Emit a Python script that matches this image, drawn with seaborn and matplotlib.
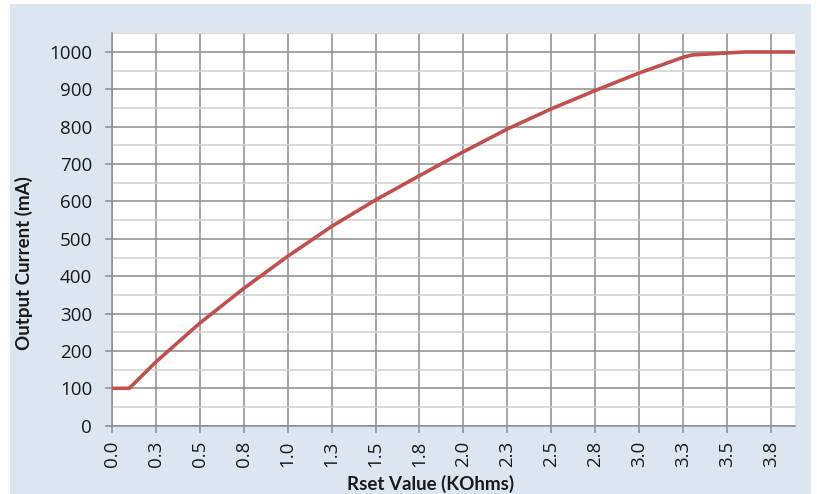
import matplotlib
matplotlib.use("Agg")
import pandas as pd
import matplotlib.pyplot as plt
import seaborn as sns
from matplotlib.patches import Rectangle
from matplotlib.ticker import FixedLocator, MultipleLocator

# values
rset = [0.0, 0.1, 0.25, 0.5, 0.75, 1.0, 1.25, 1.5, 1.75, 2.0, 2.25, 2.5,
        2.75, 3.0, 3.25, 3.3, 3.6, 3.9]
current = [100, 100, 170, 274, 367, 453, 533, 604, 669, 733, 794, 848,
           897, 944, 986, 992, 1000, 1000]

xtick_pos = [0.0, 0.25, 0.5, 0.75, 1.0, 1.25, 1.5, 1.75, 2.0, 2.25, 2.5,
             2.75, 3.0, 3.25, 3.5, 3.75]
xtick_labels = ['0.0', '0.3', '0.5', '0.8', '1.0', '1.3', '1.5', '1.8',
                '2.0', '2.3', '2.5', '2.8', '3.0', '3.3', '3.5', '3.8']
ytick_pos = [0, 100, 200, 300, 400, 500, 600, 700, 800, 900, 1000]

sns.set_theme(style="white")
plt.rcParams['font.family'] = ['Open Sans', 'DejaVu Sans']

fig = plt.figure(figsize=(8.17, 4.94), dpi=100)
# light blue chart area, drawn behind the axes
fig.patches.append(Rectangle((10 / 817, 0), 801 / 817, 490 / 494,
                             transform=fig.transFigure, facecolor='#dce6f1',
                             edgecolor='none', zorder=-10))
ax = fig.add_axes([0.1367, 0.1383, 0.8364, 0.7943])
ax.set_zorder(1)
ax.set_facecolor('white')

df = pd.DataFrame({'Rset': rset, 'Current': current})
sns.lineplot(data=df, x='Rset', y='Current', ax=ax, color='#C0504D',
             linewidth=2.6, zorder=3)

ax.set_xlim(0, 3.885)
ax.set_ylim(0, 1050)
ax.xaxis.set_major_locator(FixedLocator(xtick_pos))
ax.set_xticklabels(xtick_labels, rotation=90)
ax.yaxis.set_major_locator(FixedLocator(ytick_pos))
ax.yaxis.set_minor_locator(MultipleLocator(50))

ax.set_axisbelow(True)
ax.grid(which='major', axis='both', color='#8c8c8c', linewidth=1.1)
ax.grid(which='minor', axis='y', color='#cfcfcf', linewidth=1.1)

for side in ['top', 'right']:
    ax.spines[side].set_visible(False)
for side in ['left', 'bottom']:
    ax.spines[side].set_color('#8c8c8c')
    ax.spines[side].set_linewidth(1.1)

ax.tick_params(which='major', length=5, width=1.1, color='#8c8c8c',
               labelsize=13.5, labelcolor='#1a1a1a', bottom=True, left=True)
ax.tick_params(axis='y', pad=9)
ax.tick_params(axis='x', pad=6)
ax.tick_params(which='minor', length=0)

title_font = ['Lato', 'DejaVu Sans']
ax.set_xlabel('Rset Value (KOhms)', fontsize=13.5, fontweight='bold',
              color='#1a1a1a', fontfamily=title_font)
ax.set_ylabel('Output Current (mA)', fontsize=13.5, fontweight='bold',
              color='#1a1a1a', fontfamily=title_font)
ax.xaxis.set_label_coords(0.467, -0.1486)
ax.xaxis.label.set_verticalalignment('center')
ax.yaxis.set_label_coords(-0.128, 0.4146)
ax.yaxis.label.set_verticalalignment('center')

fig.savefig('out.png', dpi=100)
